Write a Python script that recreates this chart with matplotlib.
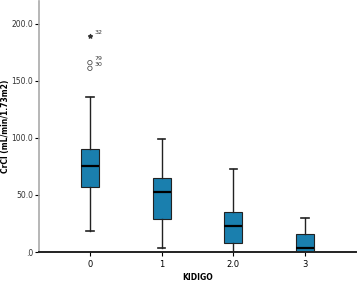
import matplotlib
matplotlib.use("Agg")
import matplotlib.pyplot as plt

# KIDIGO groups and box statistics
groups = ["0", "1", "2.0", "3"]
whislo = [18.5, 3.5, 0.0, 0.0]
q1 = [57.0, 29.0, 8.0, 0.0]
med = [75.0, 53.0, 23.0, 3.5]
q3 = [90.0, 65.0, 35.0, 16.0]
whishi = [136.0, 99.0, 73.0, 30.0]

# outliers in group 0
circle_vals = [166.0, 161.0]
circle_ids = ["79", "30"]
star_vals = [189.0]
star_ids = ["32"]

yticks = [0, 50, 100, 150, 200]
ytick_labels = [".0", "50.0", "100.0", "150.0", "200.0"]

box_color = "#1a7fae"

fig = plt.figure(figsize=(3.58, 2.83), dpi=100)
ax = fig.add_axes([39 / 358, 31 / 283, 317 / 358, 251 / 283])

stats = []
for i in range(len(groups)):
    stats.append(dict(whislo=whislo[i], q1=q1[i], med=med[i], q3=q3[i],
                      whishi=whishi[i], fliers=[]))

ax.bxp(stats, positions=range(len(groups)), widths=0.25, patch_artist=True,
       boxprops=dict(facecolor=box_color, edgecolor="#222222", linewidth=0.8),
       medianprops=dict(color="black", linewidth=1.6),
       whiskerprops=dict(color="#222222", linewidth=1.0),
       capprops=dict(color="#222222", linewidth=1.2),
       capwidths=0.1)

# outliers
ax.scatter([0] * len(circle_vals), circle_vals, marker="o", s=10,
           facecolors="none", edgecolors="#333333", linewidths=0.5, zorder=4)
ax.scatter([0] * len(star_vals), star_vals, marker="*", s=8,
           color="#333333", zorder=4)
for v, t in zip(circle_vals + star_vals, circle_ids + star_ids):
    ax.text(0.06, v + 1.5, t, fontsize=4.5, color="#333333", va="bottom")

ax.set_xlim(-0.71, 3.71)
ax.set_ylim(0, 220)
ax.set_xticks(range(len(groups)))
ax.set_xticklabels(groups, fontsize=6)
ax.set_yticks(yticks)
ax.set_yticklabels(ytick_labels, fontsize=5.5, color="#333333")
ax.tick_params(axis="y", length=3, width=0.8, pad=1)
ax.tick_params(axis="x", length=3, width=0.8, pad=3)

ax.spines["top"].set_visible(False)
ax.spines["right"].set_visible(False)
ax.spines["left"].set_color("#aaaaaa")
ax.spines["left"].set_linewidth(1.2)
ax.spines["bottom"].set_color("#222222")
ax.spines["bottom"].set_linewidth(1.4)

ax.set_xlabel("KIDIGO", fontsize=5.5, fontweight="bold", va="center")
ax.xaxis.set_label_coords(0.5, -0.10)
ax.set_ylabel("CrCl (mL/min/1.73m2)", fontsize=5.5, fontweight="bold", va="center")
ax.yaxis.set_label_coords(-0.105, 0.5)

fig.savefig("out.png", dpi=100)
